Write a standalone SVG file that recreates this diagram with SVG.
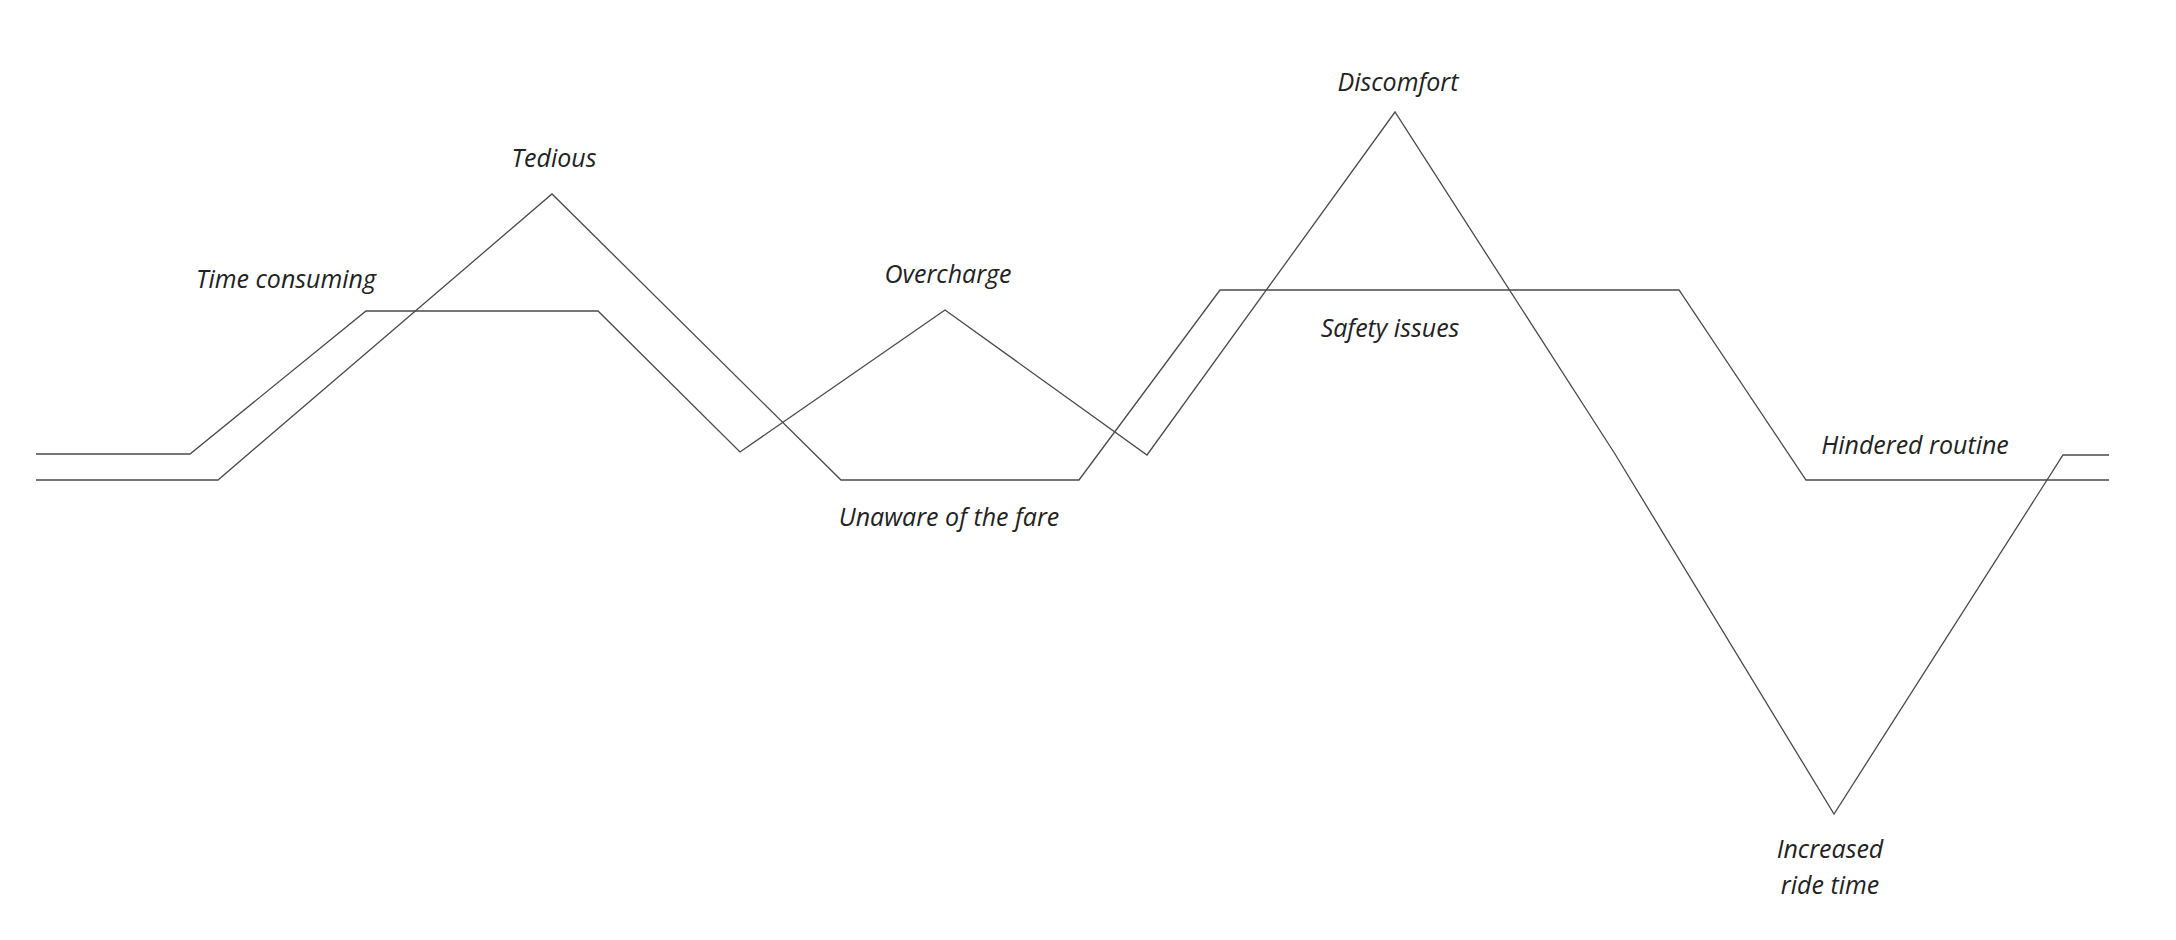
<svg xmlns="http://www.w3.org/2000/svg" width="2176" height="940" viewBox="0 0 2176 940">
<style>
.ln{fill:none;stroke:#4a4a4a;stroke-width:1.3;stroke-linejoin:miter}
.lb{font-family:"Open Sans","Noto Sans","DejaVu Sans",sans-serif;font-style:italic;font-size:25px;fill:#222;text-anchor:middle}
</style>
<rect width="2176" height="940" fill="#fff"/>
<g id="connectors">
<polyline id="lineA" class="ln" points="36,454 190,454 366,311 598,311 740,452 945,310 1147,455 1395,112 1615,454 1834,814 2063,455 2109,455"/>
<polyline id="lineB" class="ln" points="36,480 218,480 552,194 841,480 1079,480 1220,290 1679,290 1806,480 2109,480"/>
</g>
<g id="n-time-consuming"><text class="lb" x="286" y="288">Time consuming</text></g>
<g id="n-tedious"><text class="lb" x="554" y="167">Tedious</text></g>
<g id="n-overcharge"><text class="lb" x="948" y="283">Overcharge</text></g>
<g id="n-discomfort"><text class="lb" x="1398" y="91">Discomfort</text></g>
<g id="n-safety"><text class="lb" x="1390" y="337">Safety issues</text></g>
<g id="n-unaware"><text class="lb" x="949" y="526">Unaware of the fare</text></g>
<g id="n-hindered"><text class="lb" x="1915" y="454">Hindered routine</text></g>
<g id="n-increased"><text class="lb" x="1830" y="858">Increased<tspan x="1830" dy="36">ride time</tspan></text></g>
</svg>
